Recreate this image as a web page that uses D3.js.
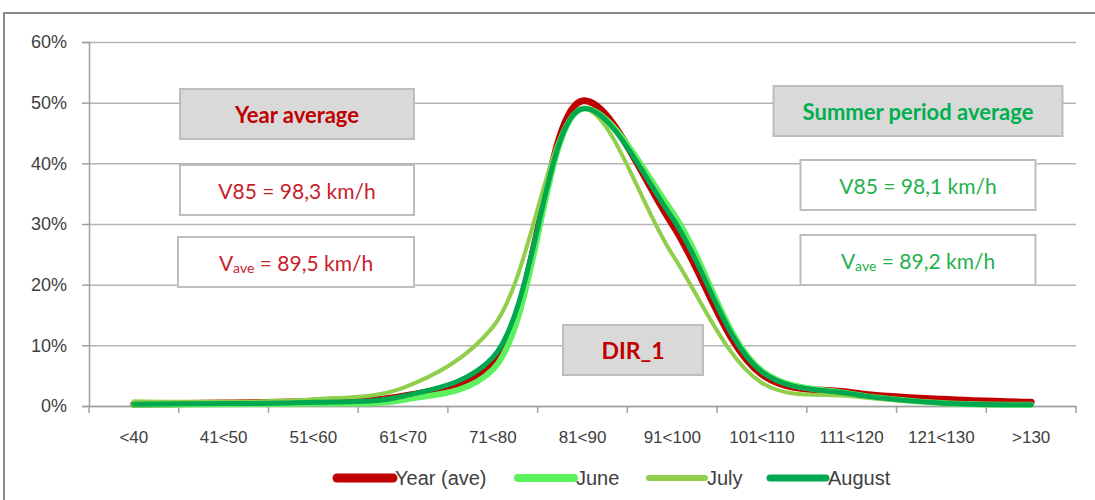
<!DOCTYPE html>
<html>
<head>
<meta charset="utf-8">
<script src="https://cdnjs.cloudflare.com/ajax/libs/d3/7.8.5/d3.min.js"></script>
<style>
  body { margin: 0; background: #fff; }
  .grid line { stroke: #b4b4b4; }
  .grid .domain { stroke: none; }
  .axis text { font-family: "Liberation Sans", sans-serif; fill: #404040; }
</style>
</head>
<body>
<script>
const categories = ["<40", "41<50", "51<60", "61<70", "71<80", "81<90", "91<100", "101<110", "111<120", "121<130", ">130"];
const yTicks = [0, 10, 20, 30, 40, 50, 60];

// percent of vehicles per speed class
const yearAve = [0.3, 0.5, 0.8, 1.6, 7.0, 50.3, 30.0, 5.2, 2.2, 1.1, 0.6];
const june    = [0.2, 0.3, 0.4, 1.0, 6.0, 49.0, 32.0, 5.8, 2.0, 0.5, 0.2];
const july    = [0.8, 0.7, 1.1, 3.0, 13.0, 49.0, 25.0, 3.8, 1.6, 0.5, 0.3];
const august  = [0.3, 0.4, 0.6, 1.6, 8.0, 49.0, 31.0, 5.6, 2.0, 0.5, 0.2];

const seriesNames = ["Year (ave)", "June", "July", "August"];

const width = 1095, height = 500;
const margins = {top: 42, right: 19, bottom: 94, left: 89};
const chartWidth = width - margins.left - margins.right;
const chartHeight = height - margins.top - margins.bottom;

const series = [
  {name: seriesNames[0], values: yearAve, color: "#c00000", w: 7},
  {name: seriesNames[1], values: june, color: "#5df25d", w: 6},
  {name: seriesNames[2], values: july, color: "#8fcf4c", w: 4},
  {name: seriesNames[3], values: august, color: "#00a84f", w: 5}
];

let svg = d3.select("body").append("svg")
  .attr("width", width)
  .attr("height", height);

// outer frame
svg.append("path")
  .attr("d", `M4,${height} V13 H${width}`)
  .attr("fill", "none")
  .attr("stroke", "#8c8c8c")
  .attr("stroke-width", 2);

let chartArea = svg.append("g")
  .attr("transform", `translate(${margins.left}, ${margins.top})`);

let xScale = d3.scaleBand().domain(categories).range([0, chartWidth]);
let yScale = d3.scaleLinear().domain([0, 60]).range([chartHeight, 0]);

// gridlines
chartArea.append("g")
  .attr("class", "grid")
  .call(d3.axisLeft(yScale).tickValues(yTicks).tickFormat("").tickSize(-chartWidth))
  .call(g => g.selectAll(".tick line").attr("stroke-width", 1.5));

// y axis
let leftAxis = chartArea.append("g")
  .attr("class", "axis")
  .call(d3.axisLeft(yScale).tickValues(yTicks).tickFormat(d => d + "%").tickSize(7).tickPadding(15));
leftAxis.select(".domain").attr("stroke", "#a0a0a0").attr("stroke-width", 1.5);
leftAxis.selectAll(".tick line").attr("stroke", "#a0a0a0").attr("stroke-width", 1.5);
leftAxis.selectAll("text").style("font-size", "18px");

// x axis
let bottomAxis = chartArea.append("g")
  .attr("class", "axis")
  .attr("transform", `translate(0, ${chartHeight})`)
  .call(d3.axisBottom(xScale).tickSize(0).tickPadding(25));
bottomAxis.select(".domain").attr("stroke", "#a0a0a0").attr("stroke-width", 1.5);
bottomAxis.selectAll("text").style("font-size", "17px");

// category boundary ticks
let edges = categories.map(c => xScale(c)).concat([xScale.range()[1]]);
chartArea.append("g").selectAll("line").data(edges)
  .join("line")
  .attr("x1", d => d).attr("x2", d => d)
  .attr("y1", chartHeight).attr("y2", chartHeight + 7)
  .attr("stroke", "#a0a0a0")
  .attr("stroke-width", 1.5);

// text boxes
function box(cx, cy, w, h, fill, lines) {
  chartArea.append("rect")
    .attr("x", cx - w / 2 - margins.left)
    .attr("y", cy - h / 2 - margins.top)
    .attr("width", w).attr("height", h)
    .attr("fill", fill)
    .attr("stroke", "#bdbdbd")
    .attr("stroke-width", 2);
  let t = chartArea.append("text")
    .attr("x", cx - margins.left)
    .attr("y", cy - margins.top)
    .attr("text-anchor", "middle")
    .attr("dominant-baseline", "central")
    .style("font-family", "Lato, sans-serif");
  lines(t);
}

const red = "#c8202a", green = "#22b14c";

// lines
let lineGen = d3.line()
  .x((d, i) => xScale(categories[i]) + xScale.bandwidth() / 2)
  .y(d => yScale(d))
  .curve(d3.curveCatmullRom.alpha(0.5));

chartArea.selectAll("path.series").data(series)
  .join("path")
  .attr("class", "series")
  .attr("fill", "none")
  .attr("stroke", d => d.color)
  .attr("stroke-width", d => d.w)
  .attr("stroke-linecap", "round")
  .attr("d", d => lineGen(d.values));

box(297, 114, 234, 50, "#d9d9d9", t => t.text("Year average")
  .attr("fill", "#c00000").style("font-weight", "bold").style("font-size", "22px"));
box(297, 190, 234, 50, "#fff", t => t.text("V85 = 98,3 km/h")
  .attr("fill", red).style("font-size", "21px"));
box(296, 262, 236, 50, "#fff", t => {
  t.attr("fill", red).style("font-size", "21px");
  t.append("tspan").text("V");
  t.append("tspan").text("ave").attr("dy", 5).style("font-size", "14px");
  t.append("tspan").text(" = 89,5 km/h").attr("dy", -5);
});
box(918, 111, 289, 50, "#d9d9d9", t => t.text("Summer period average")
  .attr("fill", "#00b050").style("font-weight", "bold").style("font-size", "22px"));
box(918, 185, 235, 50, "#fff", t => t.text("V85 = 98,1 km/h")
  .attr("fill", green).style("font-size", "21px"));
box(918, 260, 235, 50, "#fff", t => {
  t.attr("fill", green).style("font-size", "21px");
  t.append("tspan").text("V");
  t.append("tspan").text("ave").attr("dy", 5).style("font-size", "14px");
  t.append("tspan").text(" = 89,2 km/h").attr("dy", -5);
});
box(633, 350, 140, 50, "#d9d9d9", t => t.text("DIR_1")
  .attr("fill", "#c00000").style("font-weight", "bold").style("font-size", "23px"));

// legend
const legendX = [337, 518, 649, 770];
let legend = svg.append("g").selectAll("g").data(series)
  .join("g")
  .attr("transform", (d, i) => `translate(${legendX[i]}, 478)`);
legend.append("line")
  .attr("x1", 0).attr("x2", 56)
  .attr("stroke", d => d.color)
  .attr("stroke-width", d => d.w + 2)
  .attr("stroke-linecap", "round");
legend.append("text")
  .attr("x", 58)
  .attr("dominant-baseline", "central")
  .style("font-family", "Liberation Sans, sans-serif")
  .style("font-size", "20px")
  .attr("fill", "#404040")
  .text(d => d.name);
</script>
</body>
</html>
